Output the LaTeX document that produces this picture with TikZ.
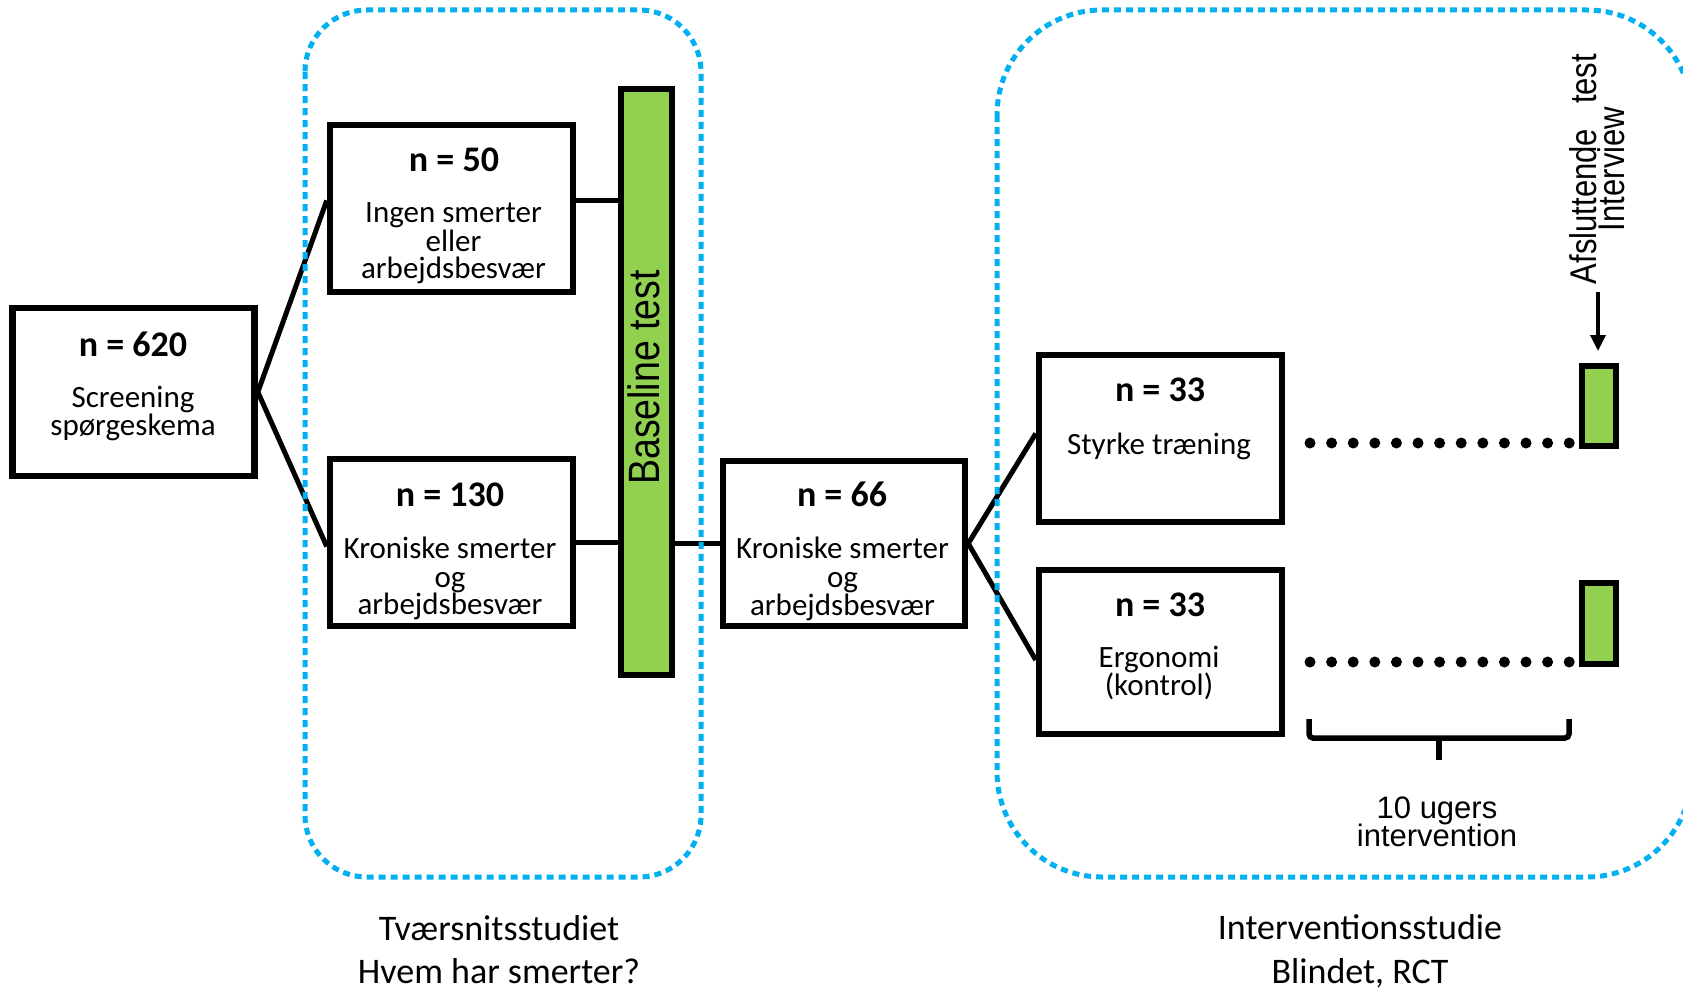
\documentclass[tikz,border=0pt]{standalone}
\usepackage{fontspec}
\usepackage{graphicx}
\setmainfont{Carlito}
\newfontfamily\arialfont{Liberation Sans}
\usetikzlibrary{arrows.meta,calc}
\definecolor{barGreen}{HTML}{92D050}
\definecolor{studyBlue}{HTML}{00B0F0}

\begin{document}
\begin{tikzpicture}[x=1pt,y=-1pt,
  box/.style={draw=black, line width=6.5pt, fill=white, inner sep=0pt,
              minimum width=243pt, minimum height=167pt},
  bar/.style={draw=black, line width=6.5pt, fill=barGreen, inner sep=0pt},
  title/.style={font=\fontsize{36}{40}\selectfont\bfseries, anchor=base, inner sep=0pt},
  body/.style={font=\fontsize{31}{29}\selectfont, anchor=base, inner sep=0pt},
  caption/.style={font=\fontsize{36}{43}\selectfont, anchor=base, inner sep=0pt},
  sans/.style={font=\arialfont\fontsize{31}{29}\selectfont, anchor=base, inner sep=0pt},
  link/.style={line width=5pt},
  region/.style={draw=studyBlue, line width=5pt, dash pattern=on 7pt off 5pt},
  dotrow/.style={line width=11pt, line cap=round, dash pattern=on 0pt off 21.6pt},
  brace/.style={line width=5.5pt, rounded corners=4pt},
  pointer/.style={line width=3.5pt, -{Triangle[length=16pt,width=15pt]}}
]
\fill[white] (0,0) rectangle (1683,990);
\useasboundingbox (0,0) rectangle (1683,990);
\clip (0,0) rectangle (1683,990);

% ---- boxes ----
\node[box, minimum width=242pt, minimum height=168pt] (b620) at (133.6,392) {};
\node[box] (b50)  at (451.5,208.5) {};
\node[box] (b130) at (451.5,542.5) {};
\node[box, minimum width=242pt, minimum height=165pt] (b66) at (844,543.5) {};
\node[box] (bS) at (1160.5,438.5) {};
\node[box, minimum height=164pt] (bE) at (1160.5,652) {};

% ---- green bars ----
\node[bar, minimum width=51pt, minimum height=586pt] (base) at (646.5,382) {};
\node[bar, minimum width=34pt, minimum height=80pt] (g1) at (1599,406) {};
\node[bar, minimum width=34pt, minimum height=81pt] (g2) at (1599,623.5) {};

% ---- connectors ----
\draw[link] (b620.east) -- ([yshift=8pt]b50.west);
\draw[link] (b620.east) -- ([yshift=-4pt]b130.west);
\draw[link] ([yshift=8pt]b50.east) -- ([yshift=8pt]b50.east -| base.west);
\draw[link] (b130.east) -- (b130.east -| base.west);
\draw[link] (base.east |- b66.west) -- (b66.west);
\draw[link] (b66.east) -- ([yshift=5pt]bS.west);
\draw[link] (b66.east) -- ([yshift=-8pt]bE.west);

% ---- dotted timelines ----
\coordinate (d1a) at (1310,443);
\coordinate (d1b) at (1570,443);
\coordinate (d2a) at (1310,662);
\coordinate (d2b) at (1570,662);
\draw[dotrow] (d1a) -- (d1b);
\draw[dotrow] (d2a) -- (d2b);

% ---- study regions ----
\draw[region, rounded corners=62pt] (305,10) rectangle (701,877);
\draw[region, rounded corners=105pt] (997,10) rectangle (1692,877);

% ---- box texts ----
\node[title] (t620) at (133,356) {n = 620};
\node[body] (l620a) at (133,407) {Screening};
\node[body] (l620b) at (133,435) {spørgeskema};

\node[title] (t50) at (454,171.7) {n = 50};
\node[body] (l50a) at (453.5,222.7) {Ingen smerter};
\node[body] (l50b) at (453.5,251.7) {eller};
\node[body] (l50c) at (453.5,278.5) {arbejdsbesvær};

\node[title] (t130) at (450,506.7) {n = 130};
\node[body] (l130a) at (450,558) {Kroniske smerter};
\node[body] (l130b) at (450,587) {og};
\node[body] (l130c) at (450,614) {arbejdsbesvær};

\node[title] (t66) at (842,506.7) {n = 66};
\node[body] (l66a) at (842.5,558) {Kroniske smerter};
\node[body] (l66b) at (842.5,587) {og};
\node[body] (l66c) at (842.5,615) {arbejdsbesvær};

\node[title] (tS) at (1160,401.7) {n = 33};
\node[body] (lS) at (1159,454) {Styrke træning};

\node[title] (tE) at (1160,616.7) {n = 33};
\node[body] (lEa) at (1159,667.7) {Ergonomi};
\node[body] (lEb) at (1159,695) {(kontrol)};

% ---- rotated labels ----
\node[rotate=90, anchor=base, inner sep=0pt, font=\arialfont\fontsize{37.5}{40}\selectfont]
  (btxt) at (659,377.5) {\scalebox{1}[1.17]{Baseline test}};
\node[sans, rotate=90] (aft) at (1596,169) {\scalebox{1}[1.2]{Afsluttende\hspace{25pt}test}};
\node[sans, rotate=90] (intv) at (1624,169) {\scalebox{1}[1.2]{Interview}};

% ---- arrow to final test ----
\coordinate (arrS) at (1598,292);
\coordinate (arrE) at (1598,351);
\draw[pointer] (arrS) -- (arrE);

% ---- intervention period brace ----
\coordinate (brL) at (1309,719);
\coordinate (brR) at (1569,719);
\coordinate (brM) at (1439,738);
\coordinate (brT) at (1439,760);
\draw[brace] (brL) -- (1309,738) -- (1569,738) -- (brR);
\draw[line width=5.5pt] (brM) -- (brT);
\node[sans] (w1) at (1437,818) {10 ugers};
\node[sans] (w2) at (1437,846) {intervention};

% ---- captions ----
\node[caption] (c1a) at (499,940) {Tværsnitsstudiet};
\node[caption] (c1b) at (499,983) {Hvem har smerter?};
\node[caption] (c2a) at (1360,939) {Interventionsstudie};
\node[caption] (c2b) at (1360,983) {Blindet, RCT};
\end{tikzpicture}
\end{document}
